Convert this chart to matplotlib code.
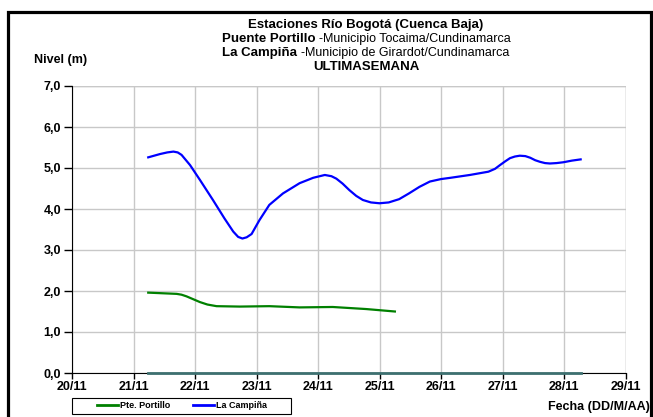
import matplotlib
matplotlib.use("Agg")
import matplotlib.pyplot as plt
import pandas as pd
from matplotlib.patches import Rectangle
from matplotlib.lines import Line2D

# --- datos ---
fechas_campina = ["2012-11-21 05:45", "2012-11-21 10:20", "2012-11-21 13:10", "2012-11-21 15:35",
                  "2012-11-21 17:15", "2012-11-21 18:45", "2012-11-21 22:05", "2012-11-22 01:55",
                  "2012-11-22 07:00", "2012-11-22 11:30", "2012-11-22 14:55", "2012-11-22 16:50",
                  "2012-11-22 18:30", "2012-11-22 20:10", "2012-11-22 22:05", "2012-11-23 01:10",
                  "2012-11-23 05:00", "2012-11-23 10:20", "2012-11-23 16:50", "2012-11-23 22:05",
                  "2012-11-24 00:00", "2012-11-24 02:40", "2012-11-24 05:15", "2012-11-24 07:10",
                  "2012-11-24 09:35", "2012-11-24 12:15", "2012-11-24 14:55", "2012-11-24 17:30",
                  "2012-11-24 20:40", "2012-11-25 00:00", "2012-11-25 03:35", "2012-11-25 07:40",
                  "2012-11-25 11:30", "2012-11-25 15:35", "2012-11-25 19:40", "2012-11-26 00:00",
                  "2012-11-26 03:35", "2012-11-26 11:15", "2012-11-26 18:30", "2012-11-26 21:05",
                  "2012-11-26 23:00", "2012-11-27 01:00", "2012-11-27 02:55", "2012-11-27 04:50",
                  "2012-11-27 06:45", "2012-11-27 08:55", "2012-11-27 10:50", "2012-11-27 12:45",
                  "2012-11-27 14:40", "2012-11-27 16:35", "2012-11-27 18:30", "2012-11-27 21:05",
                  "2012-11-27 23:45", "2012-11-28 03:05", "2012-11-28 06:30"]
nivel_campina = [5.26, 5.34, 5.38, 5.40, 5.38, 5.32, 5.07, 4.71,
                 4.22, 3.77, 3.45, 3.32, 3.28, 3.31, 3.39, 3.73,
                 4.10, 4.38, 4.63, 4.76, 4.79, 4.83, 4.80, 4.74,
                 4.62, 4.46, 4.32, 4.22, 4.16, 4.14, 4.16, 4.24,
                 4.38, 4.54, 4.67, 4.73, 4.76, 4.83, 4.91, 4.98,
                 5.07, 5.16, 5.24, 5.28, 5.30, 5.29, 5.25, 5.19,
                 5.15, 5.12, 5.11, 5.12, 5.14, 5.18, 5.21]

fechas_portillo = ["2012-11-21 05:45", "2012-11-21 16:50", "2012-11-21 18:45", "2012-11-21 20:40",
                   "2012-11-22 01:55", "2012-11-22 04:50", "2012-11-22 08:25", "2012-11-22 17:30",
                   "2012-11-23 05:00", "2012-11-23 16:50", "2012-11-24 05:45", "2012-11-24 18:45",
                   "2012-11-25 06:00"]
nivel_portillo = [1.96, 1.93, 1.91, 1.87, 1.73, 1.67, 1.63, 1.62, 1.63, 1.60, 1.61, 1.56, 1.50]

# serie en cero (sin dato) a lo largo del periodo
fechas_cero = ["2012-11-21 05:45", "2012-11-28 06:30"]
nivel_cero = [0.0, 0.0]

dias = ["2012-11-20", "2012-11-21", "2012-11-22", "2012-11-23", "2012-11-24",
        "2012-11-25", "2012-11-26", "2012-11-27", "2012-11-28", "2012-11-29"]
etiquetas_x = ["20/11", "21/11", "22/11", "23/11", "24/11", "25/11", "26/11", "27/11", "28/11", "29/11"]
niveles_y = [0, 1, 2, 3, 4, 5, 6, 7]

plt.rcParams['font.family'] = ['Liberation Sans', 'DejaVu Sans']

W, H = 653, 417
fig = plt.figure(figsize=(W / 100, H / 100), dpi=100)
ax = fig.add_axes([72 / W, 1 - 373 / H, (625.5 - 72) / W, (373 - 86) / H])

ax.plot(pd.to_datetime(fechas_cero), nivel_cero, color='#3d7070', lw=2, zorder=4, clip_on=False)
ax.plot(pd.to_datetime(fechas_portillo), nivel_portillo, color='#008000', lw=1.6, zorder=5)
ax.plot(pd.to_datetime(fechas_campina), nivel_campina, color='#0000ff', lw=1.6, zorder=5)

x_dias = pd.to_datetime(dias)
ax.set_xlim(x_dias[0], x_dias[-1])
ax.set_ylim(0, 7)
ax.set_xticks(x_dias)
ax.set_xticklabels(etiquetas_x, fontsize=9, fontweight='bold')
ax.set_yticks(niveles_y)
ax.set_yticklabels([f"{v:.1f}".replace('.', ',') for v in niveles_y], fontsize=9, fontweight='bold')
ax.tick_params(axis='y', length=6, width=1, pad=2, direction='out')
ax.tick_params(axis='x', length=4, width=1, pad=2, direction='out')

ax.grid(True, color='#c8c8c8', lw=1)
ax.set_axisbelow(True)
for s in ['top', 'right']:
    ax.spines[s].set_visible(False)

# bordes del área de la gráfica (gris)
ax.axhline(7, color='#c8c8c8', lw=1, zorder=1)
ax.axvline(x_dias[-1], color='#c8c8c8', lw=1, zorder=1)

# marco exterior
fig.patches.append(Rectangle((7.5 / W, -0.1), (650.5 - 7.5) / W, 1 - 11.5 / H + 0.1,
                             transform=fig.transFigure, fill=False, ec='black', lw=2.3))

# título con partes en negrita y normal
renderer = fig.canvas.get_renderer()


def linea_mixta(partes, y, cx=366 / W):
    textos = []
    ancho = 0
    for txt, peso in partes:
        size = 9.5 if peso == 'bold' else 9
        t = fig.text(0, y, txt, fontsize=size, fontweight=peso, va='center', ha='left')
        ancho += t.get_window_extent(renderer).width
        textos.append(t)
    x = cx * W - ancho / 2
    for t in textos:
        t.set_x(x / W)
        x += t.get_window_extent(renderer).width


linea_mixta([("Estaciones Río Bogotá (Cuenca Baja)", 'bold')], 1 - 25 / H)
linea_mixta([("Puente Portillo ", 'bold'), ("-Municipio Tocaima/Cundinamarca", 'normal')], 1 - 39 / H)
linea_mixta([("La Campiña ", 'bold'), ("-Municipio de Girardot/Cundinamarca", 'normal')], 1 - 53 / H)
linea_mixta([("ULTIMASEMANA", 'bold')], 1 - 67 / H)

fig.text(34 / W, 1 - 60 / H, "Nivel (m)", fontsize=9, fontweight='bold', va='center', ha='left')
fig.text(650 / W, 1 - 407 / H, "Fecha (DD/M/AA)", fontsize=9, fontweight='bold', va='center', ha='right')

# leyenda con recuadro propio
fig.patches.append(Rectangle((71.5 / W, 1 - 413.5 / H), 219.5 / W, 15.5 / H,
                             transform=fig.transFigure, fill=False, ec='black', lw=0.8))
handles = [Line2D([], [], color='#008000', lw=2), Line2D([], [], color='#0000ff', lw=2)]
fig.legend(handles, ["Pte. Portillo", "La Campiña"], loc='center', ncol=2,
           bbox_to_anchor=(182 / W, 1 - 405.7 / H), prop={'size': 6.5, 'weight': 'bold'},
           frameon=False, handlelength=2.3, handletextpad=0.2, columnspacing=2.6,
           borderpad=0, borderaxespad=0)

fig.savefig("out.png", dpi=100)
